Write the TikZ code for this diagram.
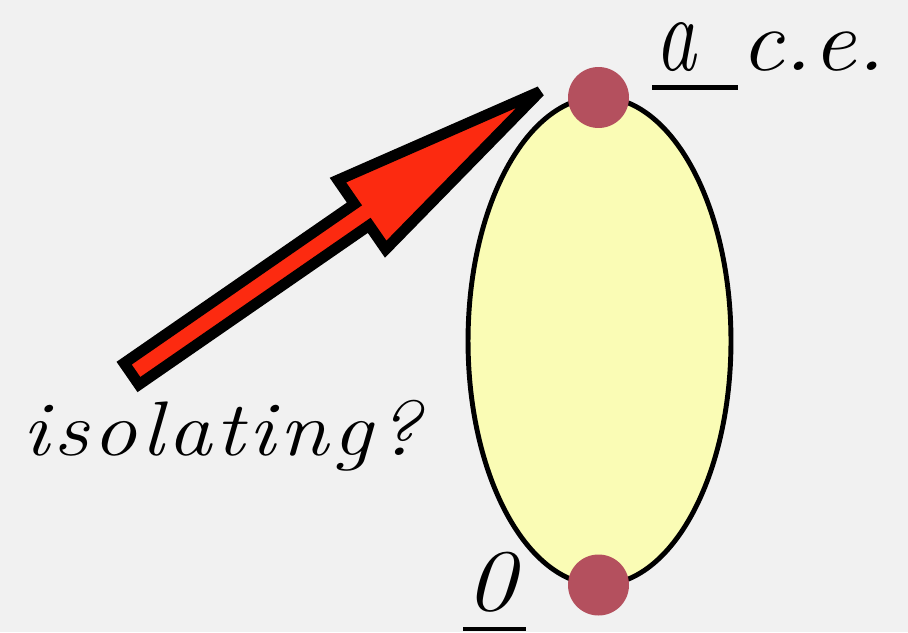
\documentclass[tikz,border=0pt]{standalone}
\usepackage{fontspec}
\usepackage{graphicx}
\usetikzlibrary{shapes.geometric}
\definecolor{bgcol}{HTML}{F1F1F1}
\definecolor{ellcol}{HTML}{FAFCB5}
\definecolor{dotcol}{HTML}{B4505E}
\definecolor{arrcol}{HTML}{FC2A10}
\newcommand{\isofont}{\fontsize{44}{44}\selectfont\itshape}
\newcommand{\lk}{\kern2pt}
\tikzset{
  dot/.style={circle, fill=dotcol, draw=none, minimum size=1.22cm, inner sep=0},
  bigarrow/.style={fill=arrcol, draw=black, line width=6.2pt, line join=miter, miter limit=4},
  lbl/.style={anchor=base west, inner sep=0, text=black},
  uline/.style={line width=2.8pt}
}
\begin{document}
\begin{tikzpicture}[x=0.02cm,y=-0.02cm]
\useasboundingbox (0,0) rectangle (908,632);
\clip (0,0) rectangle (908,632);
\fill[bgcol] (0,0) rectangle (908,632);
\node[ellipse, draw=black, line width=2.8pt, fill=ellcol, minimum width=5.26cm, minimum height=9.76cm, inner sep=0] (cone) at (599.5,341) {};
\node[dot] (top) at (598.5,97.5) {};
\node[dot] (bot) at (598.5,585) {};
\coordinate (tail) at (127,377);
\begin{scope}[shift={(tail)}, rotate=34.66]
\filldraw[bigarrow] (5.5,-13) -- (285.5,-13) -- (285.5,-42) -- (502,0) -- (285.5,42) -- (285.5,13) -- (5.5,13) -- cycle;
\end{scope}
\node[lbl] (iso) at (22,455) {\scalebox{1.15}[1]{\isofont i\lk s\lk o\lk l\lk a\lk t\lk i\lk n\lk g\lk ?}};
\node[lbl] (a) at (655,70) {\scalebox{0.75}[1]{\fontsize{62}{62}\selectfont\itshape a}};
\draw[uline] (652,87.5) -- (738,87.5);
\node[lbl] (ce) at (740,70) {\scalebox{1.1}[1]{\fontsize{50}{50}\selectfont\itshape c.e.}};
\node[lbl] (zero) at (465,610) {\scalebox{1.15}[1]{\fontsize{50}{50}\selectfont\itshape 0}};
\draw[uline] (463,629) -- (526,629);
\end{tikzpicture}
\end{document}
